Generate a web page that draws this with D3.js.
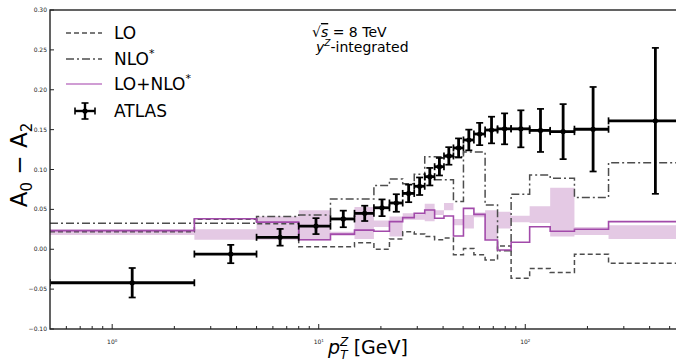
<!DOCTYPE html>
<html>
<head>
<meta charset="utf-8">
<script src="https://cdn.jsdelivr.net/npm/d3@7"></script>
<style>
  body { margin: 0; background: #fff; }
  svg { font-family: "DejaVu Sans", sans-serif; }
</style>
</head>
<body>
<svg id="chart" width="676" height="364"></svg>
<script>
// pT bin edges (GeV) and per-bin values
const binEdges = [0, 2.5, 5, 8, 11.4, 14.9, 18.5, 22, 25.5, 29, 32.6, 36.4, 40.4, 44.9,
  50.2, 56.4, 63.9, 73.4, 85.4, 105, 132, 173, 253, 600];
const atlasVal = [-0.042, -0.006, 0.015, 0.029, 0.038, 0.045, 0.052, 0.058, 0.070, 0.079,
  0.091, 0.1035, 0.117, 0.127, 0.137, 0.1445, 0.1495, 0.151, 0.151, 0.149, 0.1475, 0.1505, 0.161];
const atlasErr = [0.0185, 0.0115, 0.0105, 0.010, 0.0104, 0.0096, 0.0105, 0.011, 0.011, 0.011,
  0.011, 0.011, 0.011, 0.012, 0.013, 0.014, 0.0167, 0.0194, 0.0232, 0.027, 0.0345, 0.053, 0.0915];
const loVal = [0.022, 0.0375, 0.032, 0.003, 0.003, 0.008, 0.000, 0.013, 0.022, 0.019, 0.016,
  0.012, 0.014, -0.007, 0.001, -0.007, -0.0135, 0.004, -0.0365, -0.024, -0.029, -0.0064, -0.0177];
const nloVal = [0.0325, 0.0325, 0.041, 0.043, 0.063, 0.063, 0.080, 0.088, 0.082, 0.094, 0.087,
  0.087, 0.087, 0.060, 0.122, 0.122, 0.0555, -0.002, 0.069, 0.093, 0.089, 0.065, 0.1085];
// second NLO* trace that shows up over bins 11-14
const nloAltVal = [null, null, null, null, null, null, null, null, null, null, 0.116,
  0.116, 0.116, 0.116, null, null, null, null, null, null, null, null, null];
const sumVal = [0.0233, 0.0383, 0.034, 0.012, 0.019, 0.024, 0.0225, 0.0346, 0.0396, 0.045, 0.0492,
  0.0388, 0.0417, 0.0166, 0.0513, 0.0437, 0.0116, -0.0009, 0.0087, 0.0283, 0.0225, 0.025, 0.0346];
const bandLo = [0.018, 0.012, 0.012, 0.011, 0.017, 0.013, 0.028, 0.016, 0.037, 0.037, 0.035,
  0.043, 0.049, 0.030, 0.026, 0.040, 0.012, 0.026, 0.034, 0.033, 0.016, 0.018, 0.013];
const bandHi = [0.025, 0.025, 0.041, 0.049, 0.022, 0.053, 0.036, 0.041, 0.045, 0.043, 0.057,
  0.049, 0.058, 0.038, 0.043, 0.046, 0.049, 0.047, 0.042, 0.054, 0.077, 0.028, 0.030];
const yTicks = [-0.10, -0.05, 0.00, 0.05, 0.10, 0.15, 0.20, 0.25, 0.30];
const xMajor = [1, 10, 100];
const xMinor = [0.6, 0.7, 0.8, 0.9, 2, 3, 4, 5, 6, 7, 8, 9, 20, 30, 40, 50, 60, 70, 80, 90,
  200, 300, 400, 500];

const L = 50, R = 686, T = 10, B = 329;
const svg = d3.select("#chart");

const x = d3.scaleLog().domain([0.5, 600]).range([L, R]);
const y = d3.scaleLinear().domain([-0.10, 0.30]).range([B, T]);
const xc = v => x(Math.max(v, 0.5));

svg.append("defs").append("clipPath").attr("id", "plot")
  .append("rect").attr("x", L).attr("y", T).attr("width", R - L).attr("height", B - T);
const g = svg.append("g").attr("clip-path", "url(#plot)");

// step helpers: one point per bin start plus the last edge
function stepPoints(vals) {
  const pts = vals.map((v, i) => [binEdges[i], v]);
  pts.push([binEdges[vals.length], vals[vals.length - 1]]);
  return pts;
}
const stepLine = d3.line().curve(d3.curveStepAfter)
  .x(d => xc(d[0])).y(d => y(d[1]));

const bandPts = bandLo.map((v, i) => [binEdges[i], v, bandHi[i]]);
bandPts.push([binEdges[bandLo.length], bandLo[bandLo.length - 1], bandHi[bandHi.length - 1]]);
g.append("path")
  .attr("d", d3.area().curve(d3.curveStepAfter)
    .x(d => xc(d[0])).y0(d => y(d[1])).y1(d => y(d[2]))(bandPts))
  .attr("fill", "#e4c9e4");

const grey = "#4d4d4d";
g.append("path").attr("d", stepLine(stepPoints(loVal)))
  .attr("fill", "none").attr("stroke", grey).attr("stroke-width", 1.5)
  .attr("stroke-dasharray", "5,3");
g.append("path").attr("d", stepLine(stepPoints(nloVal)))
  .attr("fill", "none").attr("stroke", grey).attr("stroke-width", 1.5)
  .attr("stroke-dasharray", "8,3,2,3");

// alt trace: joins the main NLO* trace at both ends
const altIdx = nloAltVal.map((v, i) => v == null ? -1 : i).filter(i => i >= 0);
const a0 = altIdx[0], a1 = altIdx[altIdx.length - 1];
const altPts = [[binEdges[a0], nloVal[a0]]]
  .concat(altIdx.map(i => [binEdges[i], nloAltVal[i]]))
  .concat([[binEdges[a1 + 1], nloAltVal[a1]], [binEdges[a1 + 1], nloVal[a1 + 1]]]);
g.append("path").attr("d", d3.line().curve(d3.curveStepAfter)
    .x(d => xc(d[0])).y(d => y(d[1]))(altPts))
  .attr("fill", "none").attr("stroke", grey).attr("stroke-width", 1.5)
  .attr("stroke-dasharray", "8,3,2,3");

g.append("path").attr("d", stepLine(stepPoints(sumVal)))
  .attr("fill", "none").attr("stroke", "#a24aaa").attr("stroke-width", 1.6);

// ATLAS points
const atlas = atlasVal.map((v, i) => ({
  lo: binEdges[i], hi: binEdges[i + 1], c: (binEdges[i] + binEdges[i + 1]) / 2, v: v, e: atlasErr[i]
}));
const pts = g.selectAll(".atlas").data(atlas).enter().append("g").attr("class", "atlas")
  .attr("stroke", "#000").attr("stroke-width", 2.8);
pts.append("line").attr("x1", d => xc(d.lo)).attr("x2", d => xc(d.hi))
  .attr("y1", d => y(d.v)).attr("y2", d => y(d.v));
pts.append("line").attr("x1", d => x(d.c)).attr("x2", d => x(d.c))
  .attr("y1", d => y(d.v - d.e)).attr("y2", d => y(d.v + d.e));
[d => y(d.v - d.e), d => y(d.v + d.e)].forEach(fy => {
  pts.append("line").attr("x1", d => x(d.c) - 3.5).attr("x2", d => x(d.c) + 3.5)
    .attr("y1", fy).attr("y2", fy).attr("stroke-width", 1.7);
});
[d => xc(d.lo), d => xc(d.hi)].forEach(fx => {
  pts.append("line").attr("x1", fx).attr("x2", fx)
    .attr("y1", d => y(d.v) - 3.5).attr("y2", d => y(d.v) + 3.5).attr("stroke-width", 1.7);
});
pts.append("circle").attr("cx", d => x(d.c)).attr("cy", d => y(d.v)).attr("r", 2.6)
  .attr("fill", "#000").attr("stroke", "none");

// frame
svg.append("rect").attr("x", L).attr("y", T).attr("width", R - L).attr("height", B - T)
  .attr("fill", "none").attr("stroke", "#222").attr("stroke-width", 1.4);

// y ticks (inward)
const yAx = svg.append("g");
yTicks.forEach(t => {
  yAx.append("line").attr("x1", L).attr("x2", L + 4).attr("y1", y(t)).attr("y2", y(t))
    .attr("stroke", "#222").attr("stroke-width", 1);
  yAx.append("text").attr("x", L - 3).attr("y", y(t) + 2).attr("text-anchor", "end")
    .attr("font-size", 6).attr("fill", "#222").text(d3.format(".2f")(t));
});

// x ticks (inward)
const xAx = svg.append("g");
xMinor.forEach(t => {
  xAx.append("line").attr("x1", x(t)).attr("x2", x(t)).attr("y1", B).attr("y2", B - 3)
    .attr("stroke", "#222").attr("stroke-width", 1);
});
xMajor.forEach(t => {
  xAx.append("line").attr("x1", x(t)).attr("x2", x(t)).attr("y1", B).attr("y2", B - 5)
    .attr("stroke", "#222").attr("stroke-width", 1);
  const tx = xAx.append("text").attr("x", x(t)).attr("y", B + 15).attr("text-anchor", "middle")
    .attr("font-size", 6).attr("fill", "#222");
  tx.append("tspan").text("10");
  tx.append("tspan").attr("font-size", 4).attr("dy", -2.5).text(Math.round(Math.log10(t)));
});

// axis titles
const yl = svg.append("text").attr("transform", "translate(27,165) rotate(-90)")
  .attr("text-anchor", "middle").attr("font-size", 23).attr("fill", "#000");
yl.append("tspan").text("A");
yl.append("tspan").attr("font-size", 15).attr("dy", 5).text("0");
yl.append("tspan").attr("dy", -5).text(" − A");
yl.append("tspan").attr("font-size", 15).attr("dy", 5).text("2");

const xl = svg.append("text").attr("x", 368).attr("y", 354).attr("text-anchor", "middle")
  .attr("font-size", 19).attr("fill", "#000");
xl.append("tspan").attr("font-style", "italic").text("p");
xl.append("tspan").attr("font-style", "italic").attr("font-size", 12).attr("dy", -8).text("Z");
xl.append("tspan").attr("font-style", "italic").attr("font-size", 12).attr("dx", -8).attr("dy", 13).text("T");
xl.append("tspan").attr("dy", -5).text(" [GeV]");

// legend
const leg = svg.append("g");
const rows = [
  { label: "LO", dash: "5,3", color: grey, sup: false, yy: 33 },
  { label: "NLO", dash: "8,3,2,3", color: grey, sup: true, yy: 59 },
  { label: "LO+NLO", dash: null, color: "#c07cc6", sup: true, yy: 84 },
];
rows.forEach(r => {
  leg.append("line").attr("x1", 66).attr("x2", 102).attr("y1", r.yy).attr("y2", r.yy)
    .attr("stroke", r.color).attr("stroke-width", 1.6)
    .attr("stroke-dasharray", r.dash);
  const t = leg.append("text").attr("x", 114).attr("y", r.yy + 6).attr("font-size", 17);
  t.append("tspan").text(r.label);
  if (r.sup) t.append("tspan").attr("font-size", 11).attr("dy", -8).text("*");
});
const ay = 111, ax = 85;
const am = leg.append("g").attr("stroke", "#000").attr("stroke-width", 2.4);
am.append("line").attr("x1", ax - 10).attr("x2", ax + 10).attr("y1", ay).attr("y2", ay);
am.append("line").attr("x1", ax).attr("x2", ax).attr("y1", ay - 8).attr("y2", ay + 8);
am.append("line").attr("x1", ax - 3.5).attr("x2", ax + 3.5).attr("y1", ay - 8).attr("y2", ay - 8).attr("stroke-width", 1.6);
am.append("line").attr("x1", ax - 3.5).attr("x2", ax + 3.5).attr("y1", ay + 8).attr("y2", ay + 8).attr("stroke-width", 1.6);
am.append("line").attr("x1", ax - 10).attr("x2", ax - 10).attr("y1", ay - 3.5).attr("y2", ay + 3.5).attr("stroke-width", 1.6);
am.append("line").attr("x1", ax + 10).attr("x2", ax + 10).attr("y1", ay - 3.5).attr("y2", ay + 3.5).attr("stroke-width", 1.6);
leg.append("circle").attr("cx", ax).attr("cy", ay).attr("r", 2.6);
leg.append("text").attr("x", 114).attr("y", ay + 6).attr("font-size", 17).text("ATLAS");

// annotation
const an1 = svg.append("text").attr("x", 312).attr("y", 37).attr("font-size", 14);
an1.append("tspan").text("√");
an1.append("tspan").attr("font-style", "italic").attr("text-decoration", "overline").text("s");
an1.append("tspan").text(" = 8 TeV");
const an2 = svg.append("text").attr("x", 316).attr("y", 52).attr("font-size", 14);
an2.append("tspan").attr("font-style", "italic").text("y");
an2.append("tspan").attr("font-style", "italic").attr("font-size", 9).attr("dy", -6).text("Z");
an2.append("tspan").attr("dy", 6).text("-integrated");
</script>
</body>
</html>
